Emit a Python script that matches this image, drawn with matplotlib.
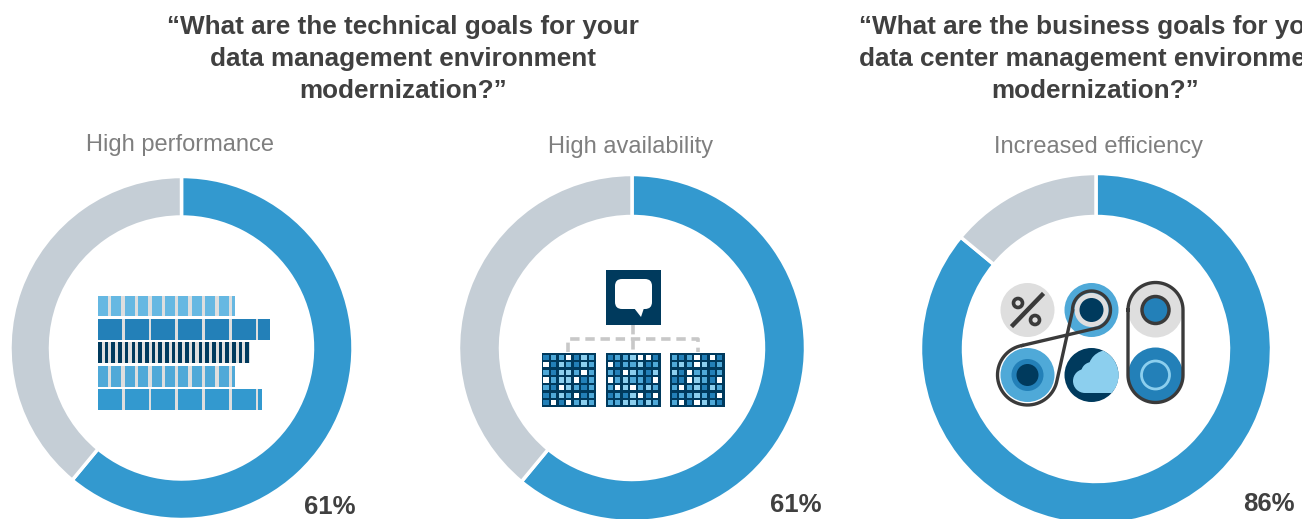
import matplotlib
matplotlib.use("Agg")
import matplotlib.pyplot as plt
import numpy as np
from matplotlib.patches import Circle, FancyBboxPatch, Polygon, Rectangle

plt.rcParams["font.family"] = ["Liberation Sans", "DejaVu Sans"]

# chart data
labels = ["High performance", "High availability", "Increased efficiency"]
pct = [61, 61, 86]
titles = ["“What are the technical goals for your\ndata management environment\nmodernization?”",
          "“What are the business goals for your\ndata center management environment\nmodernization?”"]

BLUE, GREY = "#3399cf", "#c5ced6"
DARK, MID, SOFT, LIGHT = "#003a5d", "#2380b8", "#4fa9d8", "#8ccfee"
SKY = "#66b8e2"
PALE = "#dedede"
INK = "#3a3a3a"
TXT = "#404040"

# icon cell maps for the three little matrices (w white, a light, b soft, c mid)
grid_a = ["cbbwcab", "wcabcab", "bcaabwb", "wbaawcb", "bcwabcb", "cbabwcb", "cwcwbab"]
grid_b = ["cbbawwc", "wcbbacb", "bcwabca", "wbabbcw", "bwawbab", "cbcawcw", "bbaabab"]
grid_c = ["bcbwcwc", "babwacb", "acwbbcb", "ccwabcw", "bwbacab", "cbbabcw", "bwcwabc"]
CELL = {"w": "white", "a": LIGHT, "b": SOFT, "c": MID}

fig = plt.figure(figsize=(13.02, 5.19), dpi=100)
ax = fig.add_axes([0, 0, 1, 1])

# donuts, y axis is flipped later so -90 is the top and angles run clockwise
donuts = [(181.5, 348, 171.5, 40.5), (632, 348, 173.5, 42), (1096, 349, 175.5, 43)]
for (cx, cy, r, w), p in zip(donuts, pct):
    ax.pie([p, 100 - p], colors=[BLUE, GREY], startangle=-90, center=(cx, cy), radius=r,
           wedgeprops=dict(width=w, edgecolor="white", linewidth=2.5))

ax.set_xlim(0, 1302)
ax.set_ylim(519, 0)
ax.set_aspect("auto")
ax.axis("off")

for x, s in zip((403, 1095), titles):
    ax.text(x, 59, s, ha="center", va="center", fontsize=18.8, fontweight="bold", color=TXT,
            linespacing=1.43)
for x, y, s in zip((179.5, 631, 1099), (145, 147, 147), labels):
    ax.text(x, y, s, ha="center", va="center", fontsize=17, color="#7f7f7f")
for x, y, p in zip((329.5, 795.5, 1268.5), (507, 505, 504), pct):
    ax.text(x, y, f"{p}%", ha="center", va="center", fontsize=18.5, fontweight="bold", color=TXT)


def strip(y0, y1, x0, x1, pitch, width, col):
    ax.add_patch(Rectangle((x0, y0), x1 - x0, y1 - y0, fc=PALE, ec="none"))
    for x in np.arange(x0, x1, pitch):
        ax.add_patch(Rectangle((x, y0), min(width, x1 - x), y1 - y0, fc=col, ec="none"))


# icon 1: stacked bars
strip(296, 316, 98, 235, 13.4, 10, SKY)
strip(319, 340, 98, 270, 26.7, 24, MID)
strip(342, 363, 98, 250, 6.7, 3.6, DARK)
strip(366, 387, 98, 235, 13.4, 10, SOFT)
strip(389, 410, 98, 262, 26.7, 24, BLUE)

# icon 2: speech box and matrices
ax.add_patch(Rectangle((606, 270), 55, 55, fc=DARK, ec="none"))
ax.add_patch(FancyBboxPatch((620, 284), 27, 20, boxstyle="round,pad=5,rounding_size=7", fc="white", ec="none"))
ax.add_patch(Polygon([(634, 308), (644, 308), (641, 317)], fc="white", ec="none"))
ax.plot([568, 568, 698, 698], [352, 339, 339, 352], color="#c8c8c8", lw=2.6, ls=(0, (2.6, 1.6)))
ax.plot([633, 633], [325, 352], color="#c8c8c8", lw=2.6, ls=(0, (2.6, 1.6)))
for gx, grid in zip((541.7, 606, 670), (grid_a, grid_b, grid_c)):
    ax.add_patch(Rectangle((gx, 353), 54.5, 54, fc=DARK, ec="none"))
    for j, row in enumerate(grid):
        for i, c in enumerate(row):
            ax.add_patch(Rectangle((gx + 1.6 + i * 7.6, 354.6 + j * 7.6), 5.2, 5.2, fc=CELL[c], ec="none"))


def disc(x, y, r, fc, ec="none", lw=0, z=3):
    p = Circle((x, y), r, fc=fc, ec=ec, lw=lw, zorder=z)
    ax.add_patch(p)
    return p


# icon 3: dials and belt
disc(1027.5, 310, 27, PALE)
ax.plot([1013, 1042], [325, 295], color=INK, lw=3.2, zorder=4)
disc(1018, 303, 4.5, "none", INK, 2.6, 4)
disc(1035, 320, 4.5, "none", INK, 2.6, 4)
disc(1091.5, 310, 27, SOFT)
disc(1091.5, 310, 17, PALE)
disc(1091.5, 310, 12, DARK, z=4)
disc(1027.5, 375, 27, SOFT)
disc(1027.5, 375, 16, MID)
disc(1027.5, 375, 11, DARK)
base = disc(1091.5, 375, 27, DARK)
for x, y, r in ((1085, 381, 12), (1092, 373, 11), (1108, 370, 20)):
    disc(x, y, r, LIGHT, z=4).set_clip_path(base)
rect = Rectangle((1085, 370), 36, 23, fc=LIGHT, ec="none", zorder=4)
ax.add_patch(rect)
rect.set_clip_path(base)
disc(1155.5, 310, 27.5, PALE)
disc(1155.5, 375, 27.5, MID)
disc(1155.5, 310, 13.5, MID, INK, 2.5, 4)
disc(1155.5, 375, 14, "none", LIGHT, 2, 4)

# pill outline
top = np.radians(np.linspace(180, 360, 40))
bot = np.radians(np.linspace(0, 180, 40))
pill_x = np.r_[1155.5 + 27.5 * np.cos(top), 1155.5 + 27.5 * np.cos(bot), 1128]
pill_y = np.r_[310 + 27.5 * np.sin(top), 375 + 27.5 * np.sin(bot), 310]
ax.plot(pill_x, pill_y, color=INK, lw=2.4, zorder=5)

# belt, two arcs joined by crossing straights
ta = np.radians(np.linspace(178, 428, 50))
arc = np.radians(np.linspace(10, 260, 50))
up_x, up_y = 1091.5 + 19 * np.cos(ta), 310 + 19 * np.sin(ta)
lo_x, lo_y = 1027.5 + 30 * np.cos(arc), 375 + 30 * np.sin(arc)
ax.plot(np.r_[up_x, lo_x[-1]], np.r_[up_y, lo_y[-1]], color=INK, lw=2.4, zorder=6)
ax.plot(np.r_[up_x[0], lo_x], np.r_[up_y[0], lo_y], color=INK, lw=2.4, zorder=6)

fig.savefig("out.png", dpi=100)
